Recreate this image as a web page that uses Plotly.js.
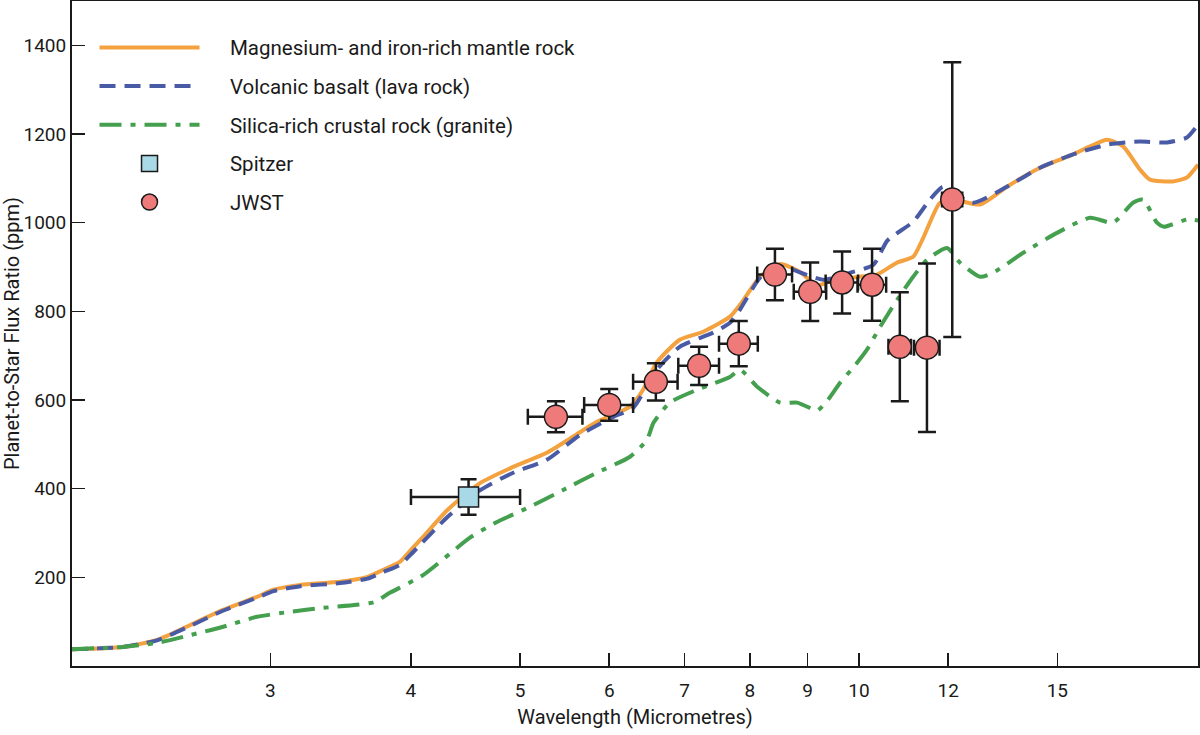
<!DOCTYPE html>
<html>
<head>
<meta charset="utf-8">
<script src="https://cdn.plot.ly/plotly-3.0.1.min.js"></script>
<style>
  html, body { margin: 0; padding: 0; background: #fff; }
  #chart { width: 1200px; height: 735px; }
</style>
</head>
<body>
<div id="chart"></div>
<script>
// model spectra (wavelength in micrometres, ratio in ppm)
var mantleX = [2.0, 2.22, 2.38, 2.55, 2.72, 2.92, 3.02, 3.19, 3.46, 3.66, 3.78, 3.91, 4.0, 4.10, 4.31, 4.61, 4.93, 5.28, 5.57, 5.85, 6.26, 6.43, 6.61, 6.93, 7.27, 7.68, 7.84, 8.17, 8.51, 8.86, 9.18, 9.4, 10.0, 10.36, 10.81, 11.17, 11.40, 11.80, 12.12, 12.81, 13.53, 14.48, 15.49, 16.04, 16.61, 17.16, 17.76, 18.13, 19.0, 19.55, 20.0];
var mantleY = [38, 43, 59, 93, 126, 156, 172, 183, 190, 201, 217, 235, 262, 291, 352, 413, 449, 481, 517, 551, 585, 623, 684, 736, 754, 788, 815, 878, 907, 889, 858, 867, 878, 882, 910, 923, 965, 1045, 1052, 1041, 1081, 1124, 1154, 1172, 1187, 1172, 1120, 1097, 1093, 1102, 1131];

var basaltX = [2.0, 2.22, 2.38, 2.55, 2.72, 2.92, 3.02, 3.19, 3.46, 3.66, 3.78, 3.91, 4.0, 4.31, 4.61, 4.93, 5.28, 5.65, 6.05, 6.3, 6.61, 6.93, 7.42, 7.68, 7.84, 8.17, 8.51, 8.99, 9.3, 9.88, 10.3, 10.6, 11.17, 11.56, 11.87, 12.12, 12.63, 13.53, 14.48, 15.49, 16.61, 17.76, 18.77, 19.55, 20.0];
var basaltY = [38, 43, 58, 91, 124, 154, 169, 180, 187, 197, 212, 228, 252, 336, 397, 436, 465, 521, 562, 582, 668, 720, 752, 774, 804, 876, 901, 882, 871, 889, 905, 960, 1002, 1052, 1081, 1068, 1045, 1081, 1124, 1154, 1176, 1183, 1181, 1192, 1221];

var graniteX = [2.0, 2.22, 2.38, 2.55, 2.72, 2.92, 3.12, 3.34, 3.58, 3.71, 3.83, 4.10, 4.51, 4.77, 5.10, 5.46, 5.85, 6.26, 6.48, 6.57, 6.79, 7.18, 7.68, 7.84, 8.12, 8.51, 8.81, 8.99, 9.18, 9.38, 9.62, 9.88, 10.16, 10.44, 10.81, 11.17, 11.49, 11.97, 12.29, 12.81, 13.15, 13.99, 14.99, 16.04, 16.81, 17.51, 17.88, 18.39, 18.65, 19.55, 20.0];
var graniteY = [38, 43, 52, 70, 88, 111, 122, 131, 138, 144, 165, 205, 289, 325, 359, 397, 436, 472, 510, 549, 594, 623, 652, 668, 630, 594, 594, 585, 576, 600, 639, 673, 713, 765, 826, 878, 916, 943, 910, 878, 887, 932, 977, 1011, 1000, 1045, 1052, 1000, 991, 1007, 1005];

// observations
var spitzerX = [4.5];
var spitzerY = [381];
var spitzerYErr = [40];
var spitzerXErr = [0.5];

var jwstX = [5.38, 6.0, 6.60, 7.21, 7.82, 8.42, 9.05, 9.66, 10.27, 10.87, 11.49, 12.1];
var jwstY = [562, 589, 641, 677, 727, 883, 844, 865, 860, 720, 718, 1052];
var jwstYErr = [35, 36, 42, 43, 51, 58, 66, 70, 81, 123, 190, 310];
var jwstXErr = [0.3, 0.3, 0.3, 0.3, 0.31, 0.3, 0.3, 0.32, 0.3, 0.25, 0.3, 0.25];

var seriesNames = [
    'Magnesium- and iron-rich mantle rock',
    'Volcanic basalt (lava rock)',
    'Silica-rich crustal rock (granite)',
    'Spitzer',
    'JWST'
];

var xTicks = [3, 4, 5, 6, 7, 8, 9, 10, 12, 15];
var yTicks = [200, 400, 600, 800, 1000, 1200, 1400];

var ink = '#1a1a1a';
var font = 'Roboto, "Noto Sans", sans-serif';
// push legend text away from the long line samples
var pad = '\u00a0\u00a0\u00a0\u00a0\u00a0';

function errBar(vals, w){
    return {type: 'data', array: vals, visible: true, color: ink, thickness: 2.5, width: w};
}

var traces = [
    {
        x: mantleX, y: mantleY, name: pad + seriesNames[0],
        mode: 'lines', legendgroup: 'a',
        line: {color: '#f4a13f', width: 4, shape: 'spline', smoothing: 0.6}
    },
    {
        x: basaltX, y: basaltY, name: pad + seriesNames[1],
        mode: 'lines', legendgroup: 'b',
        line: {color: '#4a5ba6', width: 4, dash: '16px,9px', shape: 'spline', smoothing: 0.6}
    },
    {
        x: graniteX, y: graniteY, name: pad + seriesNames[2],
        mode: 'lines', legendgroup: 'c',
        line: {color: '#44a04e', width: 4, dash: '22px,9px,5px,9px', shape: 'spline', smoothing: 0.6}
    },
    {
        x: spitzerX, y: spitzerY, name: pad + seriesNames[3],
        mode: 'markers', legendgroup: 'd',
        marker: {symbol: 'square', size: 20, color: '#a9d8e6', line: {color: ink, width: 1.5}},
        error_y: errBar(spitzerYErr, 8),
        error_x: errBar(spitzerXErr, 8)
    },
    {
        x: jwstX, y: jwstY, name: pad + seriesNames[4],
        mode: 'markers', legendgroup: 'e',
        marker: {symbol: 'circle', size: 23, color: '#ee7a7a', line: {color: ink, width: 1.5}},
        error_y: errBar(jwstYErr, 9),
        error_x: errBar(jwstXErr, 8)
    }
];

var layout = {
    width: 1200,
    height: 735,
    margin: {l: 72, r: 2, t: 1, b: 69},
    paper_bgcolor: '#fff',
    plot_bgcolor: '#fff',
    font: {family: font, size: 19, color: ink},
    showlegend: true,
    legend: {
        x: 0.02, y: 0.96, xanchor: 'left', yanchor: 'top',
        bgcolor: 'rgba(0,0,0,0)',
        font: {family: font, size: 20.5, color: ink},
        itemwidth: 100,
        traceorder: 'grouped',
        tracegroupgap: 9
    },
    xaxis: {
        type: 'log',
        range: [Math.log10(2), Math.log10(20)],
        tickvals: xTicks,
        ticktext: xTicks.map(String),
        ticks: 'inside', ticklen: 13, tickwidth: 1.5, tickcolor: ink,
        showline: true, linecolor: ink, linewidth: 2, mirror: true,
        showgrid: false, zeroline: false,
        ticklabelstandoff: 6,
        tickfont: {size: 19},
        title: {text: 'Wavelength (Micrometres)', font: {size: 20}, standoff: 9}
    },
    yaxis: {
        range: [0, 1500],
        tickvals: yTicks,
        ticks: 'inside', ticklen: 13, tickwidth: 1.5, tickcolor: ink,
        showline: true, linecolor: ink, linewidth: 2, mirror: true,
        showgrid: false, zeroline: false,
        tickfont: {size: 19},
        title: {text: 'Planet-to-Star Flux Ratio (ppm)', font: {size: 20}, standoff: 5}
    }
};

Plotly.newPlot('chart', traces, layout, {displayModeBar: false, staticPlot: true});
</script>
</body>
</html>
